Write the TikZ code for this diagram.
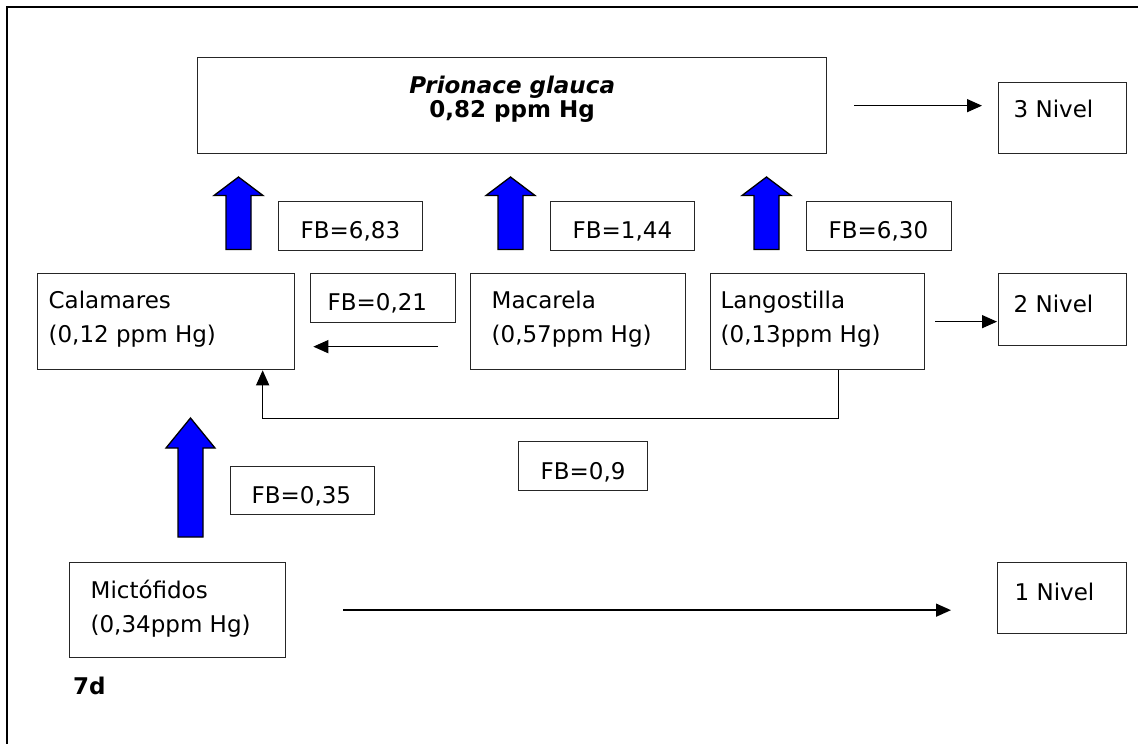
\documentclass[tikz,border=0pt]{standalone}
\usepackage{fontspec}
\setmainfont{DejaVu Sans}
\usetikzlibrary{arrows.meta}

% box contents: one line, or two lines, placed from the left edge
\newcommand\oneline[3]{\hbox to #1{\kern#2\relax #3\hss}}
\newcommand\twolines[4]{\hbox to #1{\kern#2\relax\vtop{\hbox{#3}\hbox{#4}}\hss}}
% two centred lines set close together
\newcommand\twocentered[3]{\vtop{\baselineskip=24pt\hbox to #1{\hss#2\hss}\hbox to #1{\hss#3\hss}}}
% blue block arrow pointing up: centre x, tip y, shoulder y, tail y
\newcommand\upblock[4]{%
  \filldraw[blockarrow] (#1-12.5,#4) -- (#1-12.5,#3) -- (#1-24.5,#3) -- (#1,#2)
    -- (#1+24.5,#3) -- (#1+12.5,#3) -- (#1+12.5,#4) -- cycle;}

\begin{document}
\begin{tikzpicture}[x=1pt,y=-1pt,
  font=\fontsize{23}{34}\selectfont,
  box/.style={draw=black!85, line width=1.3pt, inner sep=0pt, anchor=north west},
  link/.style={line width=1.4pt, -{Triangle[length=15pt,width=13pt]}},
  blockarrow/.style={fill=blue, draw=black, line width=1.3pt, line join=miter}]

\useasboundingbox (0,0) rectangle (1138,744);
\fill[white] (0,0) rectangle (1138,744);

% frame along the top and left
\draw[line width=2.5pt] (7,744) -- (7,7) -- (1138,7);

% top level
\node[box, text height=36pt, text depth=60pt] (prio) at (197,57)
  {\twocentered{629pt}{\textbf{\textit{Prionace glauca}}}{\textbf{0,82 ppm Hg}}};
\node[box, text height=35pt, text depth=36pt] (n3) at (998,82) {\oneline{128pt}{15pt}{3 Nivel}};

% bioaccumulation factors towards the top level
\node[box, text height=37pt, text depth=12pt] (fb683) at (278,201) {\oneline{144pt}{22pt}{FB=6,83}};
\node[box, text height=37pt, text depth=12pt] (fb144) at (550,201) {\oneline{144pt}{22pt}{FB=1,44}};
\node[box, text height=37pt, text depth=12pt] (fb630) at (806,201) {\oneline{145pt}{22pt}{FB=6,30}};

% middle level
\node[box, text height=35pt, text depth=61pt] (cal) at (37,273)
  {\twolines{257pt}{11pt}{Calamares}{(0,12 ppm Hg)}};
\node[box, text height=37pt, text depth=12pt] (fb021) at (310,273) {\oneline{145pt}{17pt}{FB=0,21}};
\node[box, text height=35pt, text depth=61pt] (mac) at (470,273)
  {\twolines{215pt}{21pt}{Macarela}{(0,57ppm Hg)}};
\node[box, text height=35pt, text depth=61pt] (lan) at (710,273)
  {\twolines{214pt}{10pt}{Langostilla}{(0,13ppm Hg)}};
\node[box, text height=39pt, text depth=33pt] (n2) at (998,273) {\oneline{128pt}{15pt}{2 Nivel}};

\node[box, text height=38pt, text depth=11pt] (fb09) at (518,441) {\oneline{129pt}{22pt}{FB=0,9}};
\node[box, text height=37pt, text depth=11pt] (fb035) at (230,466) {\oneline{144pt}{21pt}{FB=0,35}};

% bottom level
\node[box, text height=36pt, text depth=59pt] (mic) at (69,562)
  {\twolines{216pt}{21pt}{Mictófidos}{(0,34ppm Hg)}};
\node[box, text height=38pt, text depth=33pt] (n1) at (997,562) {\oneline{129pt}{17pt}{1 Nivel}};

\node[anchor=base west, inner sep=0pt] (tag) at (73,694) {\textbf{7d}};

% transfer arrows
\upblock{238.5}{177}{195.5}{249.5}
\upblock{510.5}{177}{195.5}{249.5}
\upblock{766.5}{177}{195.5}{249.5}
\upblock{190.5}{418}{448}{537}

% level arrows and links between groups
\draw[link, shorten <=27pt, shorten >=16pt] (prio.east) -- (prio.east -| n3.west);
\draw[link, shorten <=10pt, shorten >=1pt] (lan.east) -- (lan.east -| n2.west);
\draw[link, shorten <=57pt, shorten >=46pt] (mic.east) -- (mic.east -| n1.west);
\draw[link, shorten <=32pt, shorten >=18pt] ([yshift=-25pt]mac.west) -- ([yshift=-25pt]mac.west -| cal.east);
\draw[link] ([xshift=21pt]lan.south) -- ++(0,48) -| ([xshift=96.5pt]cal.south);

\end{tikzpicture}
\end{document}
